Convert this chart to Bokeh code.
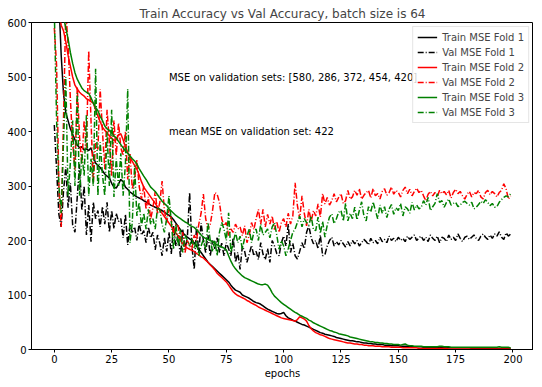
from bokeh.plotting import figure
from bokeh.models import Range1d, ColumnDataSource, Legend, LegendItem, FixedTicker
from bokeh.core.properties import value
from bokeh.embed import file_html
from bokeh.resources import INLINE

epochs = list(range(200))

train_fold1 = [
    900, 760, 640, 540, 470, 435, 420, 405, 395, 385,
    375, 370, 372, 366, 368, 365, 370, 355, 342, 338,
    334, 328, 322, 318, 315, 305, 298, 296, 304, 312,
    308, 298, 294, 289, 286, 283, 280, 278, 276, 273,
    271, 268, 265, 263, 261, 259, 257, 255, 252, 249,
    246, 243, 238, 232, 226, 220, 214, 210, 206, 203,
    200, 196, 190, 184, 178, 172, 166, 160, 156, 152,
    148, 144, 140, 136, 132, 128, 124, 118, 113, 109,
    107, 105, 100, 98, 96, 94, 91, 88, 86, 85,
    83, 80, 77, 74, 72, 70, 68, 66, 65, 66,
    68, 62, 58, 56, 54, 52, 50, 48, 46, 45,
    43, 41, 39, 37, 35, 33, 31, 30, 28, 27,
    26, 25, 24, 22, 21, 20, 19, 18, 17, 16,
    16, 15, 14, 14, 13, 12, 12, 11, 11, 10,
    10, 9, 9, 9, 8, 8, 8, 7, 7, 7,
    7, 6, 6, 6, 6, 5, 5, 5, 5, 5,
    5, 4, 4, 4, 4, 4, 4, 4, 3, 3,
    3, 3, 3, 3, 3, 3, 3, 3, 3, 3,
    3, 3, 2, 2, 2, 2, 2, 2, 2, 2,
    2, 2, 2, 2, 2, 2, 2, 2, 2, 2,
]

val_fold1 = [
    412, 330, 248, 225, 290, 335, 260, 305, 228, 215,
    280, 340, 255, 300, 210, 265, 198, 270, 240, 255,
    225, 262, 230, 270, 215, 255, 222, 250, 235, 240,
    205, 248, 192, 230, 215, 225, 200, 232, 210, 218,
    196, 225, 205, 215, 183, 210, 195, 172, 205, 180,
    215, 175, 228, 190, 210, 170, 220, 185, 205, 288,
    190, 147, 225, 178, 232, 200, 178, 210, 172, 200,
    185, 205, 178, 195, 172, 196, 185, 172, 205, 160,
    178, 147, 190, 180, 160, 175, 191, 172, 180, 165,
    196, 175, 165, 185, 160, 200, 190, 176, 172, 196,
    208, 190, 230, 178, 195, 172, 166, 180, 196, 185,
    215, 227, 205, 194, 200, 185, 210, 172, 174, 190,
    200, 206, 190, 198, 192, 200, 194, 188, 198, 190,
    200, 194, 200, 190, 196, 202, 198, 192, 204, 196,
    200, 194, 206, 198, 202, 196, 208, 200, 204, 198,
    206, 200, 204, 198, 208, 202, 206, 210, 200, 205,
    208, 200, 206, 198, 210, 204, 200, 208, 196, 206,
    204, 198, 210, 202, 206, 200, 212, 204, 198, 206,
    208, 202, 206, 210, 204, 200, 208, 212, 206, 202,
    210, 204, 212, 208, 216, 206, 202, 214, 208, 212,
]

train_fold2 = [
    800, 690, 620, 595, 585, 565, 540, 520, 500, 485,
    478, 472, 468, 465, 460, 458, 455, 452, 440, 428,
    418, 408, 402, 398, 392, 388, 383, 386, 394, 396,
    385, 372, 362, 352, 345, 338, 331, 320, 308, 298,
    292, 286, 280, 274, 268, 262, 256, 250, 244, 238,
    232, 226, 220, 214, 208, 200, 194, 190, 186, 184,
    182, 180, 176, 174, 170, 168, 164, 160, 155, 151,
    146, 140, 136, 132, 128, 124, 118, 112, 106, 102,
    99, 97, 95, 93, 90, 88, 85, 83, 81, 78,
    76, 74, 72, 70, 68, 66, 64, 62, 60, 58,
    57, 56, 55, 54, 53, 52, 55, 60, 58, 56,
    52, 44, 38, 34, 31, 29, 27, 26, 24, 22,
    20, 19, 18, 17, 16, 15, 14, 13, 12, 12,
    11, 10, 10, 9, 9, 8, 8, 7, 7, 7,
    6, 6, 6, 5, 5, 5, 5, 4, 4, 4,
    4, 4, 3, 3, 3, 3, 3, 3, 3, 2,
    2, 2, 2, 2, 2, 2, 2, 2, 2, 2,
    2, 2, 1, 1, 1, 1, 1, 1, 1, 1,
    1, 1, 1, 1, 1, 1, 1, 1, 1, 1,
    1, 1, 1, 1, 1, 1, 1, 1, 1, 1,
]

val_fold2 = [
    590, 520, 300, 225, 420, 620, 560, 460, 380, 330,
    482, 390, 340, 420, 370, 548, 420, 306, 380, 367,
    478, 400, 331, 440, 380, 319, 420, 356, 416, 370,
    356, 400, 312, 360, 294, 312, 349, 300, 276, 300,
    257, 280, 239, 260, 290, 250, 270, 309, 255, 233,
    257, 240, 209, 230, 227, 200, 215, 178, 200, 190,
    185, 210, 200, 230, 250, 285, 240, 221, 230, 255,
    288, 285, 270, 240, 227, 233, 209, 221, 215, 230,
    221, 225, 209, 227, 196, 210, 233, 220, 240, 257,
    230, 257, 225, 248, 230, 245, 220, 235, 215, 233,
    240, 225, 250, 230, 245, 306, 264, 240, 282, 250,
    227, 257, 235, 255, 245, 267, 243, 286, 267, 279,
    265, 273, 286, 271, 279, 286, 268, 273, 292, 276,
    280, 292, 283, 295, 276, 283, 288, 292, 278, 295,
    282, 286, 276, 290, 295, 283, 288, 298, 285, 292,
    288, 280, 292, 298, 286, 294, 282, 290, 296, 288,
    292, 282, 273, 285, 290, 282, 288, 280, 292, 286,
    290, 284, 292, 278, 288, 294, 286, 290, 282, 276,
    285, 290, 280, 288, 286, 292, 280, 276, 288, 292,
    284, 290, 286, 280, 288, 292, 304, 295, 276, 282,
]

train_fold3 = [
    950, 800, 700, 640, 610, 590, 570, 545, 525, 508,
    496, 488, 480, 475, 472, 470, 462, 452, 444, 438,
    428, 420, 410, 405, 402, 398, 392, 388, 382, 376,
    370, 364, 360, 355, 350, 346, 340, 332, 325, 318,
    312, 305, 298, 294, 290, 284, 278, 272, 268, 264,
    258, 254, 250, 246, 243, 240, 237, 234, 232, 228,
    226, 224, 220, 215, 210, 206, 204, 202, 200, 198,
    195, 192, 190, 188, 186, 183, 172, 162, 154, 148,
    143, 139, 135, 132, 130, 128, 126, 124, 122, 120,
    119, 119, 120, 118, 112, 104, 98, 94, 90, 86,
    83, 80, 77, 74, 71, 68, 66, 63, 61, 59,
    57, 54, 52, 49, 47, 45, 43, 41, 39, 37,
    35, 34, 32, 31, 29, 28, 27, 26, 25, 23,
    22, 21, 20, 19, 18, 17, 16, 15, 14, 14,
    13, 13, 12, 12, 11, 11, 10, 10, 9, 9,
    9, 8, 9, 10, 8, 7, 7, 6, 6, 6,
    6, 5, 5, 5, 5, 5, 5, 5, 6, 6,
    5, 5, 5, 4, 4, 4, 4, 4, 4, 4,
    4, 4, 4, 4, 4, 4, 4, 4, 4, 4,
    4, 4, 4, 4, 5, 4, 4, 4, 4, 3,
]

val_fold3 = [
    620, 420, 300, 250, 380, 500, 282, 343, 420, 300,
    470, 282, 360, 319, 430, 282, 350, 300, 515, 282,
    380, 320, 282, 400, 300, 440, 280, 350, 300, 360,
    282, 340, 478, 196, 233, 337, 245, 270, 227, 250,
    221, 257, 230, 240, 221, 260, 257, 230, 215, 240,
    282, 235, 184, 230, 190, 220, 178, 210, 200, 190,
    205, 185, 200, 172, 190, 202, 185, 233, 200, 180,
    200, 172, 215, 233, 221, 200, 251, 178, 196, 215,
    196, 208, 184, 205, 208, 221, 196, 215, 221, 200,
    230, 210, 215, 221, 205, 225, 233, 210, 184, 200,
    190, 172, 185, 200, 215, 221, 233, 245, 225, 240,
    233, 228, 245, 220, 218, 243, 213, 235, 206, 228,
    243, 249, 231, 240, 252, 255, 236, 268, 236, 250,
    240, 261, 238, 255, 271, 245, 236, 262, 252, 271,
    255, 240, 265, 250, 262, 242, 258, 266, 248, 260,
    255, 268, 245, 262, 258, 250, 270, 256, 265, 258,
    261, 273, 265, 279, 255, 262, 268, 286, 270, 273,
    261, 270, 276, 265, 268, 270, 262, 265, 270, 272,
    268, 265, 270, 258, 261, 266, 272, 268, 275, 270,
    264, 268, 261, 262, 270, 275, 279, 282, 280, 286,
]

series_names = ["Train MSE Fold 1", "Val MSE Fold 1", "Train MSE Fold 2",
                "Val MSE Fold 2", "Train MSE Fold 3", "Val MSE Fold 3"]
series_values = [train_fold1, val_fold1, train_fold2, val_fold2, train_fold3, val_fold3]
series_colors = ["black", "black", "#ff0000", "#ff0000", "#008000", "#008000"]
series_dash = ["solid", "6 2 1 2", "solid", "6 2 1 2", "solid", "6 2 1 2"]

x_ticks = [0, 25, 50, 75, 100, 125, 150, 175, 200]
y_ticks = [0, 100, 200, 300, 400, 500, 600]

annot_x = [50, 50]
annot_y = [500, 400]
annot_text = ["MSE on validation sets: [580, 286, 372, 454, 420]",
              "mean MSE on validation set: 422"]

title_text = "Train Accuracy vs Val Accuracy, batch size is 64"
FONT = "DejaVu Sans"

p = figure(frame_width=502, frame_height=327, output_backend="svg", toolbar_location=None,
           x_range=Range1d(-9.95, 208.95), y_range=Range1d(0, 600),
           title=title_text, min_border_left=31, min_border_right=0,
           min_border_top=22, min_border_bottom=0)

p.title.text_font = FONT
p.title.text_font_size = "12px"
p.title.text_font_style = "normal"
p.title.align = "center"
p.title.standoff = 4

p.grid.visible = False
p.outline_line_color = "black"
p.outline_line_width = 1

for ax in (p.xaxis[0], p.yaxis[0]):
    ax.axis_line_color = "black"
    ax.major_tick_line_color = "black"
    ax.major_tick_in = 0
    ax.major_tick_out = 3
    ax.minor_tick_line_color = None
    ax.major_label_text_font = FONT
    ax.major_label_text_font_size = "10px"
    ax.major_label_text_color = "black"
    ax.major_label_standoff = 2
    ax.axis_label_text_font = FONT
    ax.axis_label_text_font_size = "10px"
    ax.axis_label_text_font_style = "normal"
    ax.axis_label_text_color = "black"

p.xaxis.ticker = FixedTicker(ticks=x_ticks)
p.yaxis.ticker = FixedTicker(ticks=y_ticks)
p.xaxis.axis_label = "epochs"
p.xaxis.axis_label_standoff = 2

items = []
for name, vals, col, dash in zip(series_names, series_values, series_colors, series_dash):
    src = ColumnDataSource(data=dict(x=epochs, y=vals))
    r = p.line("x", "y", source=src, line_color=col, line_width=1.5, line_dash=dash)
    items.append(LegendItem(label=name, renderers=[r]))

tsrc = ColumnDataSource(data=dict(x=annot_x, y=annot_y, t=annot_text))
p.text("x", "y", text="t", source=tsrc, text_font=value(FONT), text_font_size="10px",
       text_align="left", text_baseline="alphabetic", text_color="black")

legend = Legend(items=items, location="top_right")
legend.margin = 4
legend.padding = 4
legend.spacing = 3
legend.label_height = 12
legend.glyph_height = 12
legend.glyph_width = 20
legend.label_standoff = 5
legend.label_text_font = FONT
legend.label_text_font_size = "10px"
legend.border_line_color = "#cccccc"
legend.background_fill_alpha = 0.8
p.add_layout(legend)

open("out.html", "w").write(file_html(p, INLINE))
